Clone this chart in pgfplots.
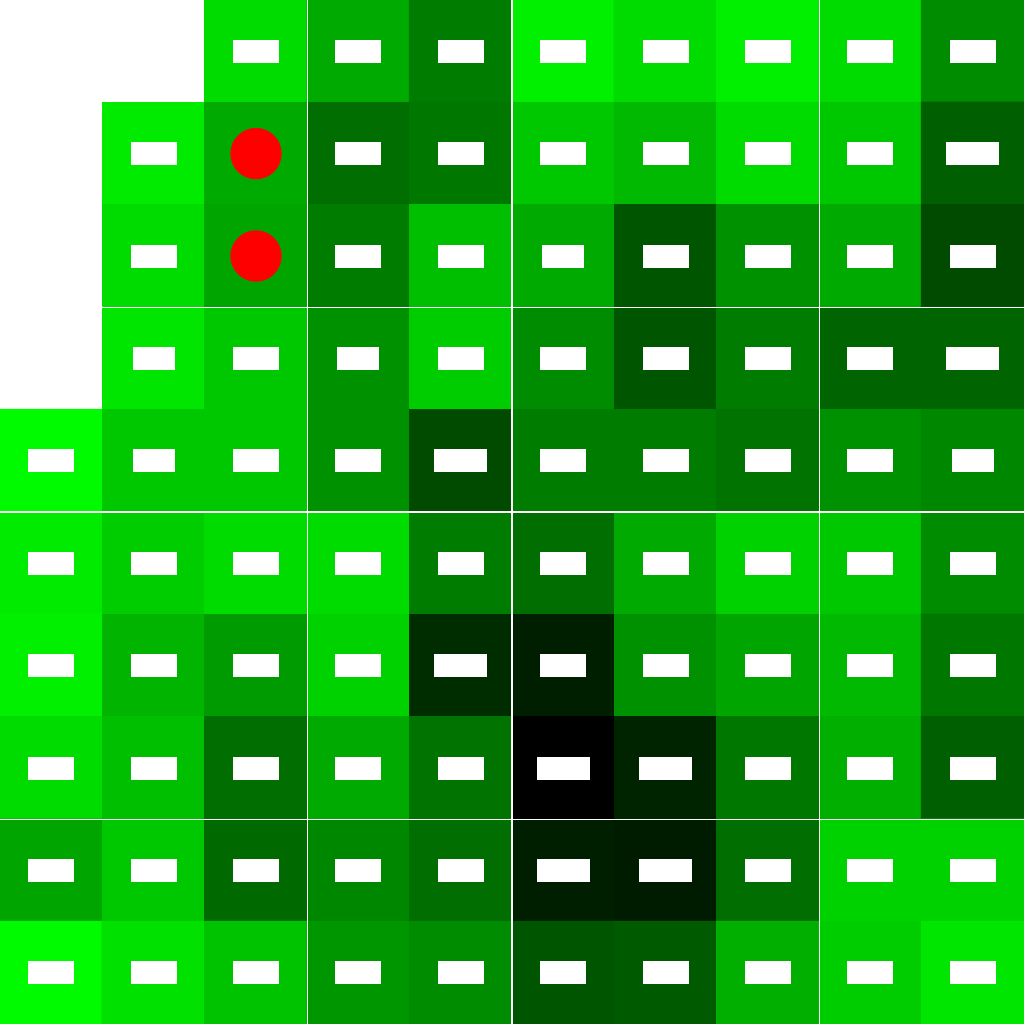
\documentclass[border=0pt]{standalone}
\usepackage{pgfplots}
\pgfplotsset{compat=1.18}

% cell shade: green level 0..255, -1 = empty (white)
\pgfplotstableread{
x y c
0 0 -1
1 0 -1
2 0 220
3 0 170
4 0 125
5 0 240
6 0 220
7 0 240
8 0 220
9 0 140
0 1 -1
1 1 235
2 1 170
3 1 110
4 1 120
5 1 200
6 1 185
7 1 220
8 1 200
9 1 95
0 2 -1
1 2 220
2 2 165
3 2 125
4 2 190
5 2 170
6 2 85
7 2 145
8 2 170
9 2 75
0 3 -1
1 3 230
2 3 200
3 3 145
4 3 205
5 3 140
6 3 85
7 3 125
8 3 100
9 3 100
0 4 250
1 4 200
2 4 200
3 4 145
4 4 75
5 4 125
6 4 125
7 4 115
8 4 145
9 4 135
0 5 235
1 5 205
2 5 220
3 5 220
4 5 125
5 5 110
6 5 170
7 5 210
8 5 200
9 5 140
0 6 240
1 6 180
2 6 155
3 6 210
4 6 45
5 6 30
6 6 145
7 6 165
8 6 185
9 6 120
0 7 220
1 7 190
2 7 110
3 7 170
4 7 115
5 7 0
6 7 35
7 7 120
8 7 175
9 7 95
0 8 165
1 8 200
2 8 105
3 8 135
4 8 110
5 8 30
6 8 28
7 8 110
8 8 210
9 8 210
0 9 250
1 9 225
2 9 195
3 9 150
4 9 140
5 9 85
6 9 90
7 9 175
8 9 205
9 9 230
}\cells

\begin{document}
\begin{tikzpicture}
\begin{axis}[
    scale only axis,
    width=307.2pt, height=307.2pt,
    hide axis,
    xmin=-0.5, xmax=9.5,
    ymin=-0.5, ymax=9.5,
    y dir=reverse,
    colormap={wg}{rgb255(0cm)=(255,255,255) rgb255(1cm)=(0,0,0) rgb255(256cm)=(0,255,0)},
    point meta min=-1, point meta max=255,
    lbl/.style={only marks, mark=none, nodes near coords={},
        every node near coord/.append style={fill=white, draw=none, inner sep=0pt,
            anchor=center, minimum height=6.9pt, minimum width=#1}},
]
\addplot[matrix plot*, mesh/cols=10, point meta=explicit] table[x=x, y=y, meta=c] {\cells};

% white separators
\addplot[white, line width=0.35pt] coordinates {(2.5,-0.5) (2.5,9.5)};
\addplot[white, line width=0.35pt] coordinates {(4.5,-0.5) (4.5,9.5)};
\addplot[white, line width=0.35pt] coordinates {(7.5,-0.5) (7.5,9.5)};
\addplot[white, line width=0.35pt] coordinates {(-0.5,2.5) (9.5,2.5)};
\addplot[white, line width=0.35pt] coordinates {(-0.5,4.5) (9.5,4.5)};
\addplot[white, line width=0.35pt] coordinates {(-0.5,7.5) (9.5,7.5)};

% label boxes
\addplot[lbl=13.8pt] coordinates {
(2,0) (3,0) (4,0) (5,0) (6,0) (7,0) (8,0) (9,0)
(1,1) (2,1) (3,1) (4,1) (5,1) (6,1) (7,1) (8,1)
(1,2) (2,2) (3,2) (4,2) (6,2) (7,2) (8,2) (9,2)
(2,3) (4,3) (5,3) (6,3) (7,3) (8,3)
(0,4) (2,4) (3,4) (5,4) (6,4) (7,4) (8,4)
(0,5) (1,5) (2,5) (3,5) (4,5) (5,5) (6,5) (7,5) (8,5) (9,5)
(0,6) (1,6) (2,6) (3,6) (5,6) (6,6) (7,6) (8,6) (9,6)
(0,7) (1,7) (2,7) (3,7) (4,7) (7,7) (8,7) (9,7)
(0,8) (1,8) (2,8) (3,8) (4,8) (7,8) (8,8) (9,8)
(0,9) (1,9) (2,9) (3,9) (4,9) (5,9) (6,9) (7,9) (8,9) (9,9)
};
\addplot[lbl=15.9pt] coordinates {(9,1) (9,3) (4,4) (4,6) (5,7) (6,7) (5,8) (6,8)};
\addplot[lbl=12.6pt] coordinates {(5,2) (3,3) (1,3) (1,4) (9,4)};

% markers
\addplot[only marks, mark=*, mark size=7.5pt, red, mark options={draw=none, fill=red}]
    coordinates {(2,1) (2,2)};
\end{axis}
\end{tikzpicture}
\end{document}
